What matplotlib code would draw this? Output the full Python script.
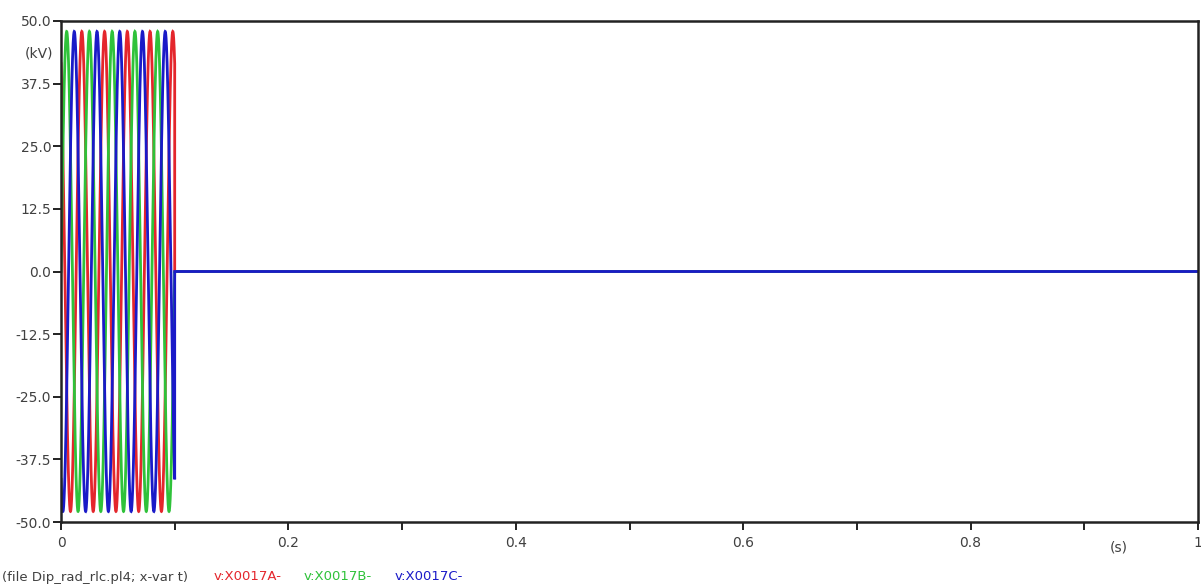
import numpy as np
import matplotlib
matplotlib.use("Agg")
import matplotlib.pyplot as plt

# three-phase voltages (kV), switched off at t_off
names = ["v:X0017A-", "v:X0017B-", "v:X0017C-"]
colors = ["#e4262c", "#2fc23a", "#1a1ac8"]
amplitude = [47.9, 47.9, 47.9]
phase_deg = [120.0, 0.0, -120.0]
freq = 50.0
t_off = 0.1
t_end = 1.0

yticks = [50.0, 37.5, 25.0, 12.5, 0.0, -12.5, -25.0, -37.5, -50.0]
xticks = [0, 0.1, 0.2, 0.3, 0.4, 0.5, 0.6, 0.7, 0.8, 0.9, 1.0]
xlabels = ["0", "", "0.2", "", "0.4", "", "0.6", "", "0.8", "", "1"]

W, H = 1201, 586
fig = plt.figure(figsize=(W / 100, H / 100), dpi=100)
ax = fig.add_axes([61 / W, 1 - 522 / H, (1198 - 61) / W, (522 - 21) / H])

t_on = np.linspace(0, t_off, 4001)
t = np.concatenate([t_on, [t_off, t_end]])
for name, c, a, ph in zip(names, colors, amplitude, phase_deg):
    v = a * np.sin(2 * np.pi * freq * t_on + np.radians(ph))
    v = np.concatenate([v, [0.0, 0.0]])
    ax.plot(t, v, color=c, lw=2.0, solid_joinstyle="miter")

ax.set_xlim(0, t_end)
ax.set_ylim(-50, 50)
ax.set_yticks(yticks)
ax.set_yticklabels(["%.1f" % y for y in yticks])
ax.set_xticks(xticks)
ax.set_xticklabels(xlabels)
ax.tick_params(direction="out", length=6, width=1.4, color="#222222",
               labelsize=10, labelcolor="#404040", pad=1)
ax.tick_params(axis="x", pad=4)
for s in ax.spines.values():
    s.set_linewidth(1.8)
    s.set_color("#222222")

# unit labels
ax.text(-0.007, 43.6, "(kV)", ha="right", va="center", fontsize=10,
        color="#404040", transform=ax.get_yaxis_transform())
ax.text(0.93, -0.05, "(s)", ha="center", va="center", fontsize=10,
        color="#404040", transform=ax.transAxes)

# footer line
fx = 2 / W
fy = 1 - 577 / H
txt = fig.text(fx, fy, "(file Dip_rad_rlc.pl4; x-var t)", fontsize=9.5,
               color="#404040", va="center", ha="left")
fig.canvas.draw()
r = fig.canvas.get_renderer()
x = txt.get_window_extent(r).x1 + 26
for name, c in zip(names, colors):
    tt = fig.text(x / W, fy, name, fontsize=9.5, color=c, va="center", ha="left")
    x = tt.get_window_extent(r).x1 + 22

fig.savefig("out.png", dpi=100)
